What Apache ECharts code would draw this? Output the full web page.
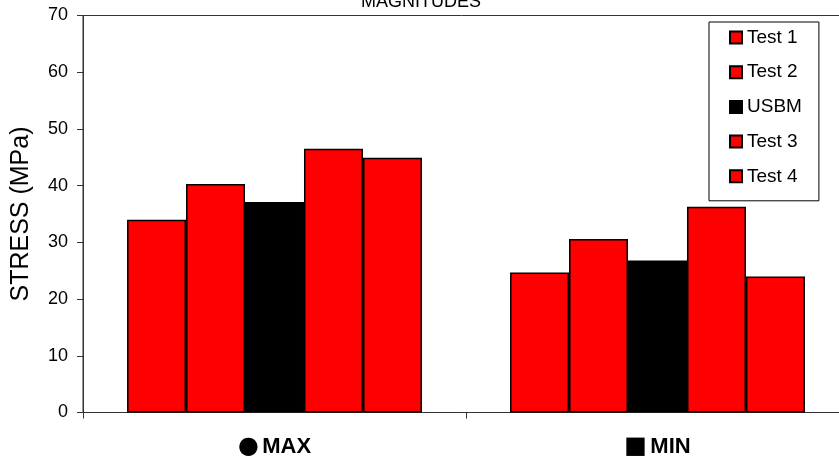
<!DOCTYPE html>
<html>
<head>
<meta charset="utf-8">
<script src="https://cdn.jsdelivr.net/npm/echarts@6/dist/echarts.min.js"></script>
<style>html,body{margin:0;padding:0;background:#fff}#c{width:839px;height:461px}</style>
</head>
<body>
<div id="c"></div>
<script>
const categories = ['\u25CF MAX', '\u25A0 MIN'];
const seriesNames = ['Test 1', 'Test 2', 'USBM', 'Test 3', 'Test 4'];
const test1 = [34.0, 24.7];
const test2 = [40.3, 30.6];
const usbm = [37.1, 26.8];
const test3 = [46.5, 36.3];
const test4 = [44.9, 24.0];
const yTicks = [0, 10, 20, 30, 40, 50, 60, 70];

const values = [test1, test2, usbm, test3, test4];
const colors = ['#ff0000', '#ff0000', '#000000', '#ff0000', '#ff0000'];
const font = '"Liberation Sans", Arial, sans-serif';

const chart = echarts.init(document.getElementById('c'), null, {renderer: 'canvas'});
chart.setOption({
  animation: false,
  backgroundColor: '#fff',
  title: {
    text: 'MAGNITUDES',
    left: 416, top: -12, textAlign: 'center',
    textStyle: {fontFamily: font, fontWeight: 'normal', fontSize: 18, color: '#000'}
  },
  grid: {
    left: 83, top: 15.5, width: 766, bottom: 48.5,
    outerBoundsMode: 'none', containLabel: false,
    show: true, borderColor: '#333', borderWidth: 1, backgroundColor: 'transparent'
  },
  legend: {
    orient: 'vertical', left: 709, top: 22,
    padding: [5, 17, 14, 20],
    borderColor: '#000', borderWidth: 1,
    itemWidth: 12, itemHeight: 12, itemGap: 13.7,
    icon: 'rect',
    data: seriesNames,
    textStyle: {fontFamily: font, fontSize: 19, color: '#000', lineHeight: 21}
  },
  xAxis: {
    type: 'category',
    data: categories,
    axisLine: {lineStyle: {color: '#333', width: 1}},
    axisTick: {show: true, alignWithLabel: false, length: 6, lineStyle: {color: '#333'}},
    axisLabel: {
      margin: 22,
      formatter: v => '{s|' + v.charAt(0) + '} {t|' + v.slice(2) + '}',
      rich: {
        s: {fontFamily: '"DejaVu Sans", sans-serif', fontSize: 24, color: '#000'},
        t: {fontFamily: font, fontSize: 22, fontWeight: 'bold', color: '#000'}
      }
    }
  },
  yAxis: {
    type: 'value', min: yTicks[0], max: yTicks[yTicks.length - 1], interval: 10,
    name: 'STRESS (MPa)', nameLocation: 'middle', nameGap: 49, nameRotate: 90,
    nameTextStyle: {fontFamily: font, fontSize: 25, color: '#000'},
    axisLine: {show: true, lineStyle: {color: '#333', width: 1}},
    axisTick: {show: true, length: 6, lineStyle: {color: '#333'}},
    splitLine: {show: false},
    axisLabel: {fontFamily: font, fontSize: 18, color: '#000', margin: 15}
  },
  series: seriesNames.map((n, i) => ({
    name: n, type: 'bar', data: values[i],
    barGap: '0%', barCategoryGap: '23%',
    itemStyle: {color: colors[i], borderColor: '#000', borderWidth: 1.5}
  }))
});
</script>
</body>
</html>
